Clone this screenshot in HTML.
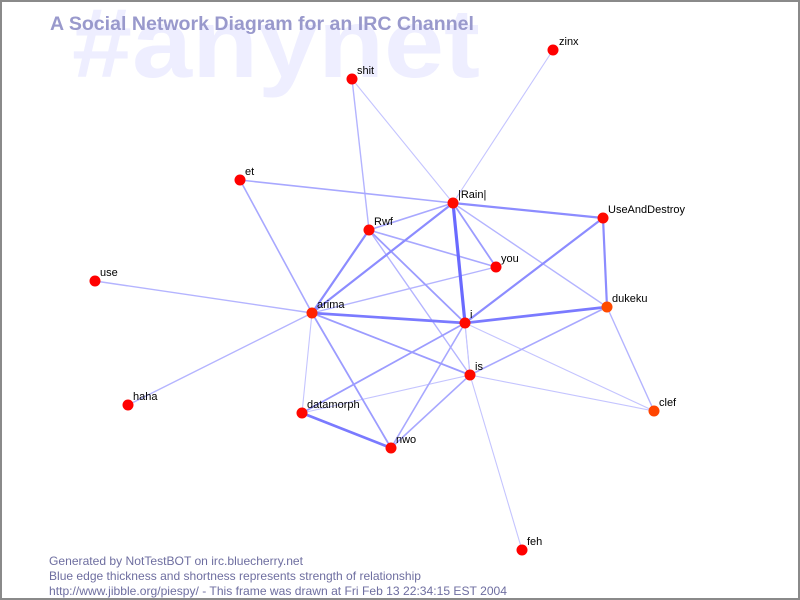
<!DOCTYPE html>
<html><head><meta charset="utf-8"><style>
html,body{margin:0;padding:0;background:#fff;}
svg{display:block;}
</style></head><body>
<svg width="800" height="600" viewBox="0 0 800 600" xmlns="http://www.w3.org/2000/svg">
<rect x="0" y="0" width="800" height="600" fill="#ffffff"/>
<rect x="1" y="1" width="798" height="598" fill="none" stroke="#8a8a8a" stroke-width="2"/>
<text x="72" y="77" font-family="Liberation Sans, sans-serif" font-weight="bold" font-size="98" fill="#eeeeff" textLength="408" lengthAdjust="spacingAndGlyphs">#anynet</text>
<text x="50" y="30" font-family="Liberation Sans, sans-serif" font-weight="bold" font-size="19" fill="#9999cc" textLength="424" lengthAdjust="spacingAndGlyphs">A Social Network Diagram for an IRC Channel</text>
<g stroke-linecap="round">
<!-- thin edges -->
<g stroke="#c4c4ff" stroke-width="1.1">
<line x1="352" y1="79" x2="453" y2="203"/>
<line x1="553" y1="50" x2="453" y2="203"/>
<line x1="312" y1="313" x2="302" y2="413"/>
<line x1="465" y1="323" x2="470" y2="375"/>
<line x1="465" y1="323" x2="654" y2="411"/>
<line x1="470" y1="375" x2="654" y2="411"/>
<line x1="470" y1="375" x2="522" y2="550"/>
<line x1="470" y1="375" x2="302" y2="413"/>
<line x1="453" y1="203" x2="470" y2="375"/>
</g>
<g stroke="#b4b4ff" stroke-width="1.4">
<line x1="312" y1="313" x2="95" y2="281"/>
<line x1="312" y1="313" x2="128" y2="405"/>
<line x1="453" y1="203" x2="607" y2="307"/>
<line x1="352" y1="79" x2="369" y2="230"/>
<line x1="312" y1="313" x2="496" y2="267"/>
<line x1="369" y1="230" x2="470" y2="375"/>
<line x1="607" y1="307" x2="654" y2="411"/>
</g>
<g stroke="#a8a8ff" stroke-width="1.6">
<line x1="240" y1="180" x2="453" y2="203"/>
<line x1="240" y1="180" x2="312" y2="313"/>
<line x1="369" y1="230" x2="496" y2="267"/>
<line x1="369" y1="230" x2="453" y2="203"/>
<line x1="470" y1="375" x2="391" y2="448"/>
<line x1="465" y1="323" x2="391" y2="448"/>
<line x1="470" y1="375" x2="607" y2="307"/>
</g>
<g stroke="#9c9cff" stroke-width="1.8">
<line x1="453" y1="203" x2="496" y2="267"/>
<line x1="312" y1="313" x2="470" y2="375"/>
<line x1="312" y1="313" x2="391" y2="448"/>
<line x1="369" y1="230" x2="465" y2="323"/>
<line x1="465" y1="323" x2="302" y2="413"/>
</g>
<g stroke="#8c8cff" stroke-width="2.2">
<line x1="312" y1="313" x2="369" y2="230"/>
<line x1="312" y1="313" x2="453" y2="203"/>
<line x1="453" y1="203" x2="603" y2="218"/>
<line x1="603" y1="218" x2="607" y2="307"/>
<line x1="465" y1="323" x2="603" y2="218"/>
</g>
<g stroke="#7a7aff" stroke-width="2.7">
<line x1="312" y1="313" x2="465" y2="323"/>
<line x1="465" y1="323" x2="607" y2="307"/>
<line x1="302" y1="413" x2="391" y2="448"/>
</g>
<g stroke="#6a6aff" stroke-width="3.2">
<line x1="453" y1="203" x2="465" y2="323"/>
</g>
</g>
<g>
<circle cx="553" cy="50" r="5.5" fill="#ff0000"/>
<circle cx="352" cy="79" r="5.5" fill="#ff0000"/>
<circle cx="240" cy="180" r="5.5" fill="#ff0000"/>
<circle cx="453" cy="203" r="5.5" fill="#ff0a00"/>
<circle cx="603" cy="218" r="5.5" fill="#ff0a00"/>
<circle cx="369" cy="230" r="5.5" fill="#ff0800"/>
<circle cx="496" cy="267" r="5.5" fill="#ff0000"/>
<circle cx="95" cy="281" r="5.5" fill="#ff0000"/>
<circle cx="607" cy="307" r="5.5" fill="#ff4a00"/>
<circle cx="312" cy="313" r="5.5" fill="#ff2200"/>
<circle cx="465" cy="323" r="5.5" fill="#ff0a00"/>
<circle cx="470" cy="375" r="5.5" fill="#ff0a00"/>
<circle cx="128" cy="405" r="5.5" fill="#ff0000"/>
<circle cx="654" cy="411" r="5.5" fill="#ff4400"/>
<circle cx="302" cy="413" r="5.5" fill="#ff0800"/>
<circle cx="391" cy="448" r="5.5" fill="#ff0800"/>
<circle cx="522" cy="550" r="5.5" fill="#ff0000"/>
</g>
<g font-family="Liberation Sans, sans-serif" font-size="11" fill="#000">
<text x="559" y="45">zinx</text>
<text x="357" y="74">shit</text>
<text x="245" y="175">et</text>
<text x="458" y="198">|Rain|</text>
<text x="608" y="213">UseAndDestroy</text>
<text x="374" y="225">Rwf</text>
<text x="501" y="262">you</text>
<text x="100" y="276">use</text>
<text x="612" y="302">dukeku</text>
<text x="317" y="308">arima</text>
<text x="470" y="318">i</text>
<text x="475" y="370">is</text>
<text x="133" y="400">haha</text>
<text x="659" y="406">clef</text>
<text x="307" y="408">datamorph</text>
<text x="396" y="443">nwo</text>
<text x="527" y="545">feh</text>
</g>
<g font-family="Liberation Sans, sans-serif" font-size="12" fill="#6e6ea0">
<text x="49" y="565" textLength="254" lengthAdjust="spacingAndGlyphs">Generated by NotTestBOT on irc.bluecherry.net</text>
<text x="49" y="580" textLength="372" lengthAdjust="spacingAndGlyphs">Blue edge thickness and shortness represents strength of relationship</text>
<text x="49" y="595" textLength="458" lengthAdjust="spacingAndGlyphs">http://www.jibble.org/piespy/ - This frame was drawn at Fri Feb 13 22:34:15 EST 2004</text>
</g>
</svg>
</body></html>
